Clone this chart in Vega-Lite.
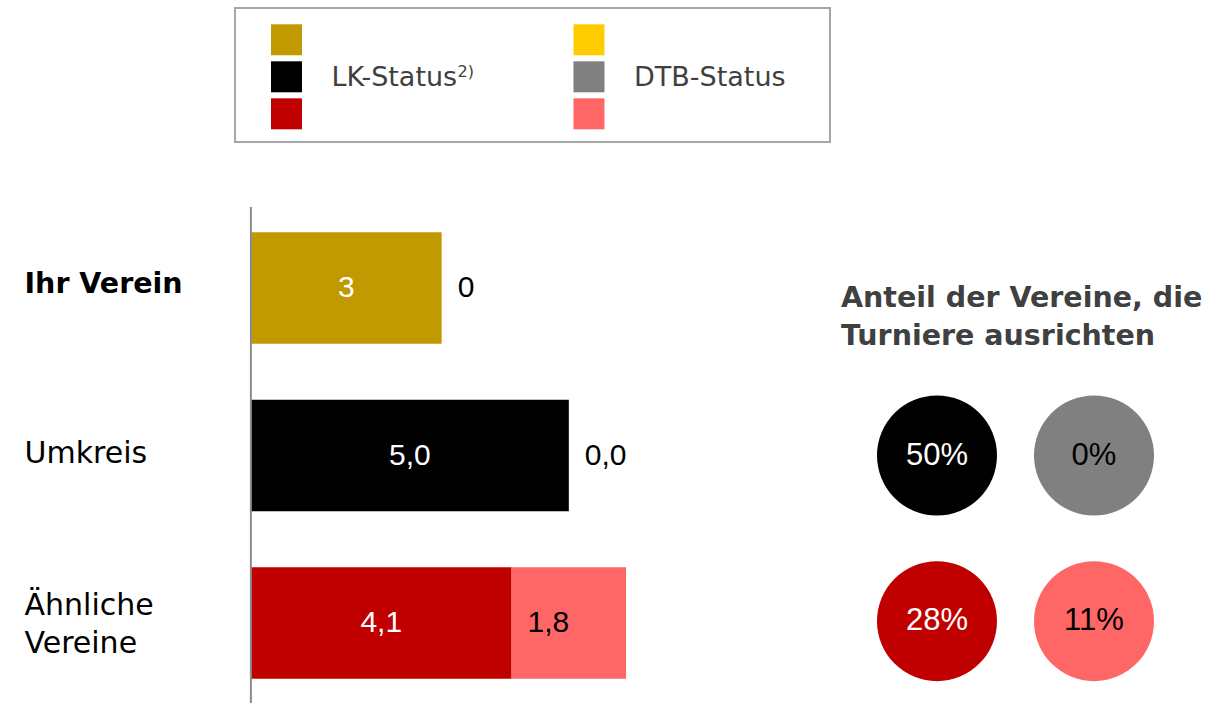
{
  "$schema": "https://vega.github.io/schema/vega-lite/v6.json",
  "background": "white",
  "padding": {"left": 24, "top": 7, "right": 2, "bottom": 0},
  "config": {"view": {"stroke": null}, "font": "DejaVu Sans"},
  "datasets": {
    "main": [
      {"group": "Ihr Verein", "status": "LK", "key": "Ihr Verein|LK", "value": 3, "label": "3"},
      {"group": "Ihr Verein", "status": "DTB", "key": "Ihr Verein|DTB", "value": 0, "label": "0"},
      {"group": "Umkreis", "status": "LK", "key": "Umkreis|LK", "value": 5.0, "label": "5,0", "share": 0.5, "shareLabel": "50%"},
      {"group": "Umkreis", "status": "DTB", "key": "Umkreis|DTB", "value": 0.0, "label": "0,0", "share": 0, "shareLabel": "0%"},
      {"group": "Ähnliche Vereine", "status": "LK", "key": "Ähnliche Vereine|LK", "value": 4.1, "label": "4,1", "share": 0.28, "shareLabel": "28%"},
      {"group": "Ähnliche Vereine", "status": "DTB", "key": "Ähnliche Vereine|DTB", "value": 1.8, "label": "1,8", "share": 0.11, "shareLabel": "11%"}
    ]
  },
  "spacing": 63,
  "vconcat": [
    {
      "width": 595,
      "height": 134,
      "view": {"stroke": "#a6a6a6", "strokeWidth": 2},
      "layer": [
        {
          "data": {"name": "main"},
          "mark": {"type": "square", "size": 961, "opacity": 1, "filled": true},
          "encoding": {
            "x": {"field": "status", "type": "nominal", "scale": {"type": "point", "domain": ["LK", "DTB"], "padding": 0.4835, "align": 0.176}, "axis": null},
            "y": {"field": "group", "type": "nominal", "scale": {"type": "point", "domain": ["Ihr Verein", "Umkreis", "Ähnliche Vereine"], "padding": 0.81, "align": 0.53}, "axis": null},
            "color": {
              "field": "key", "type": "nominal", "legend": null,
              "scale": {
                "domain": ["Ihr Verein|LK", "Ihr Verein|DTB", "Umkreis|LK", "Umkreis|DTB", "Ähnliche Vereine|LK", "Ähnliche Vereine|DTB"],
                "range": ["#C09A00", "#FFCC00", "#000000", "#808080", "#C00000", "#FF6666"]
              }
            }
          }
        },
        {
          "data": {"values": [{"status": "LK", "text": "LK-Status"}, {"status": "DTB", "text": "DTB-Status"}]},
          "mark": {"type": "text", "align": "left", "baseline": "middle", "dx": 45, "dy": 1, "fontSize": 27, "color": "#404040", "font": "DejaVu Sans"},
          "encoding": {
            "x": {"field": "status", "type": "nominal"},
            "y": {"datum": "Umkreis"},
            "text": {"field": "text"}
          }
        },
        {
          "data": {"values": [{"status": "LK", "text": "2)"}]},
          "mark": {"type": "text", "align": "left", "baseline": "alphabetic", "dx": 171, "dy": 0, "fontSize": 16, "color": "#404040", "font": "DejaVu Sans"},
          "encoding": {
            "x": {"field": "status", "type": "nominal"},
            "y": {"datum": "Umkreis"},
            "text": {"field": "text"}
          }
        }
      ]
    },
    {
      "spacing": 20,
      "hconcat": [
        {
          "width": 585,
          "height": 497,
          "data": {"name": "main"},
          "transform": [
            {"stack": "value", "groupby": ["group"], "sort": [{"field": "status", "order": "descending"}], "as": ["x0", "x1"]}
          ],
          "layer": [
            {
              "mark": {"type": "bar"},
              "encoding": {
                "y": {
                  "field": "group", "type": "nominal",
                  "scale": {"domain": ["Ihr Verein", "Umkreis", "Ähnliche Vereine"], "paddingInner": 0.3333, "paddingOuter": 0.15},
                  "axis": {
                    "title": null, "domain": false, "ticks": false, "tickSize": 0, "grid": false,
                    "labelAlign": "left", "labelPadding": 211, "labelFont": "DejaVu Sans",
                    "labelFontSize": {"condition": {"test": "datum.value == 'Ihr Verein'", "value": 28.5}, "value": 30},
                    "labelFontWeight": {"condition": {"test": "datum.value == 'Ihr Verein'", "value": "bold"}, "value": "normal"},
                    "labelOffset": {"condition": [{"test": "datum.value == 'Ihr Verein'", "value": -4}, {"test": "datum.value == 'Umkreis'", "value": -2}], "value": -17},
                    "labelColor": "#000000",
                    "labelExpr": "datum.value == 'Ähnliche Vereine' ? ['Ähnliche', 'Vereine'] : datum.value",
                    "labelLineHeight": 38,
                    "labelLimit": 0
                  }
                },
                "x": {"field": "x0", "type": "quantitative", "scale": {"domain": [-0.25, 8.95], "nice": false, "zero": false}, "axis": null},
                "x2": {"field": "x1"},
                "color": {"field": "key", "type": "nominal", "legend": null}
              }
            },
            {
              "transform": [
                {"filter": "datum.status == 'LK'"},
                {"fold": ["x0", "x1"], "as": ["edge", "pos"]}
              ],
              "mark": {"type": "text", "color": "white", "font": "Liberation Sans", "fontSize": 30, "baseline": "middle"},
              "encoding": {
                "y": {"field": "group", "type": "nominal"},
                "x": {"aggregate": "mean", "field": "pos", "type": "quantitative"},
                "text": {"field": "label"}
              }
            },
            {
              "transform": [{"filter": "datum.status == 'DTB'"}],
              "mark": {"type": "text", "color": "black", "font": "Liberation Sans", "fontSize": 30, "align": "left", "dx": 16, "baseline": "middle"},
              "encoding": {
                "y": {"field": "group", "type": "nominal"},
                "x": {"field": "x0", "type": "quantitative"},
                "text": {"field": "label"}
              }
            },
            {
              "data": {"values": [{}]},
              "mark": {"type": "rule", "color": "#8c8c8c", "strokeWidth": 2},
              "encoding": {"x": {"datum": 0}}
            }
          ]
        },
        {
          "width": 363,
          "height": 497,
          "layer": [
            {
              "data": {"name": "main"},
              "transform": [{"filter": "isValid(datum.share)"}],
              "mark": {"type": "circle", "size": 14400, "opacity": 1},
              "encoding": {
                "x": {"field": "status", "type": "nominal", "scale": {"type": "point", "domain": ["LK", "DTB"], "padding": 0.656, "align": 0.466}, "axis": null},
                "y": {"field": "group", "type": "nominal", "scale": {"domain": ["Ihr Verein", "Umkreis", "Ähnliche Vereine"], "paddingInner": 0.3333, "paddingOuter": 0.15}, "axis": null},
                "color": {"field": "key", "type": "nominal", "legend": null}
              }
            },
            {
              "data": {"name": "main"},
              "transform": [{"filter": "isValid(datum.share)"}],
              "mark": {"type": "text", "font": "Liberation Sans", "fontSize": 31, "baseline": "middle"},
              "encoding": {
                "x": {"field": "status", "type": "nominal"},
                "y": {"field": "group", "type": "nominal"},
                "text": {"field": "shareLabel"},
                "color": {"condition": {"test": "datum.status == 'LK'", "value": "white"}, "value": "black"}
              }
            },
            {
              "data": {"values": [{}]},
              "mark": {"type": "text", "text": ["Anteil der Vereine, die", "Turniere ausrichten"], "font": "DejaVu Sans", "fontWeight": "bold", "fontSize": 28.5, "color": "#404040", "align": "left", "baseline": "alphabetic", "lineHeight": 38, "dx": -96, "dy": 17},
              "encoding": {
                "x": {"datum": "LK"},
                "y": {"datum": "Ihr Verein"}
              }
            }
          ]
        }
      ]
    }
  ]
}
